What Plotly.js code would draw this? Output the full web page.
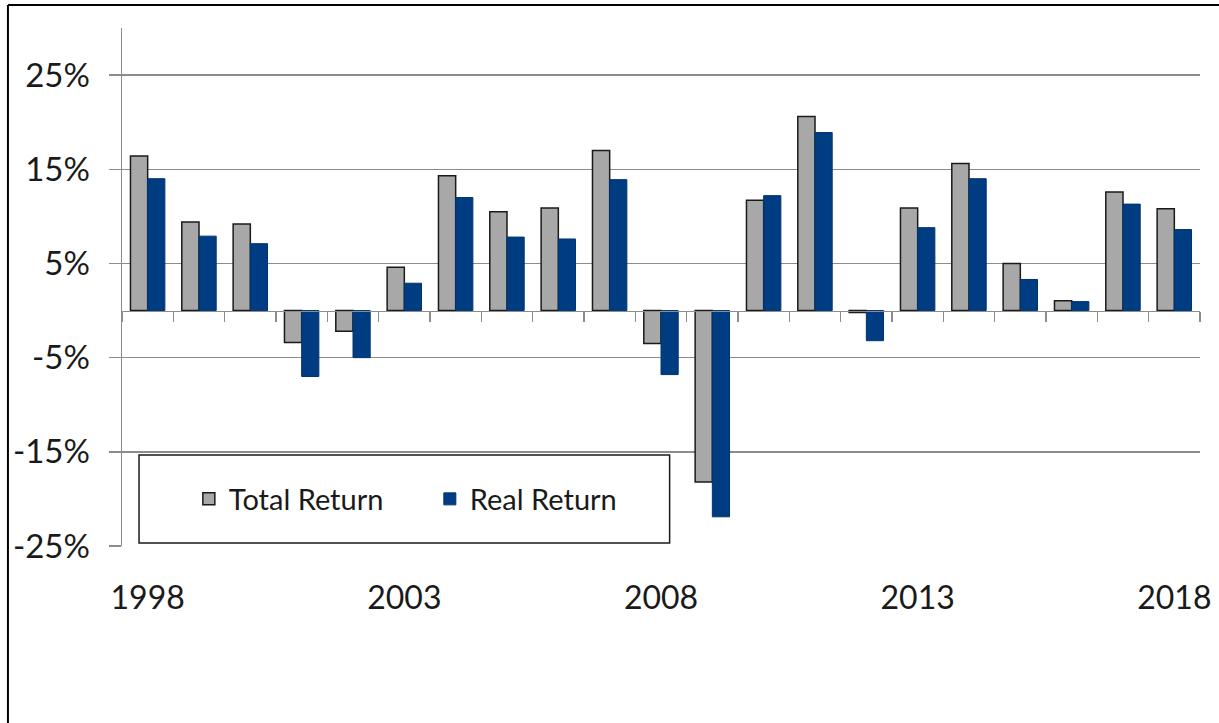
<!DOCTYPE html>
<html>
<head>
<meta charset="utf-8">
<script src="https://cdn.plot.ly/plotly-3.0.1.min.js"></script>
<style>html,body{margin:0;padding:0;background:#fff;}#chart{width:1219px;height:723px;}</style>
</head>
<body>
<div id="chart"></div>
<script>
const years = ["1998","1999","2000","2001","2002","2003","2004","2005","2006","2007","2008","2009","2010","2011","2012","2013","2014","2015","2016","2017","2018"];
const totalReturn = [16.4, 9.4, 9.2, -3.4, -2.2, 4.6, 14.3, 10.5, 10.9, 17.0, -3.5, -18.2, 11.7, 20.6, -0.2, 10.9, 15.6, 5.0, 1.05, 12.6, 10.8];
const realReturn  = [14.0, 7.9, 7.1, -7.0, -5.0, 2.9, 12.0, 7.8, 7.6, 13.9, -6.8, -21.9, 12.2, 18.9, -3.2, 8.8, 14.0, 3.3, 0.95, 11.3, 8.6];
const yTickVals = [-25, -15, -5, 5, 15, 25];
const yTickText = ["-25%", "-15%", "-5%", "5%", "15%", "25%"];
const xLabelYears = ["1998", "2003", "2008", "2013", "2018"];

const FONT = "Lato, 'Open Sans', sans-serif";
const yMin = -25, yMax = 30;
const zeroPos = (0 - yMin) / (yMax - yMin);

const traces = [
  {type: "bar", name: "Total Return", x: years, y: totalReturn, xaxis: "x", yaxis: "y",
   marker: {color: "#a8a8a8", line: {color: "#1a1a1a", width: 1.5}}},
  {type: "bar", name: "Real Return", x: years, y: realReturn, xaxis: "x", yaxis: "y",
   marker: {color: "#003c82", line: {color: "#00346f", width: 1}}}
];

const labelIdx = xLabelYears.map(y => years.indexOf(y));

const layout = {
  width: 1219, height: 723,
  margin: {l: 122, r: 19, t: 28, b: 177},
  paper_bgcolor: "#fff", plot_bgcolor: "#fff",
  font: {family: FONT, color: "#1a1a1a"},
  barmode: "group", bargap: 0.33, bargroupgap: 0,
  showlegend: true,
  legend: {orientation: "h", x: 0.062, y: 0.0907, xanchor: "left", yanchor: "middle",
           bgcolor: "rgba(0,0,0,0)", borderwidth: 0, entrywidth: 196, entrywidthmode: "pixels",
           font: {family: FONT, size: 29, color: "#1a1a1a"}},
  xaxis: {type: "category", anchor: "free", position: zeroPos, showline: true, linecolor: "#8c8c8c", linewidth: 1.5,
          ticks: "outside", ticklen: 10, tickwidth: 1.5, tickcolor: "#8c8c8c", tickson: "boundaries",
          showticklabels: false, showgrid: false, zeroline: false, fixedrange: true,
          range: [-0.5, years.length - 0.5]},
  xaxis2: {type: "linear", overlaying: "x", anchor: "y", side: "bottom", range: [-0.5, years.length - 0.5],
           tickvals: labelIdx, ticktext: xLabelYears, ticks: "", showline: false, showgrid: false, zeroline: false,
           ticklabelstandoff: 30, tickfont: {family: FONT, size: 32, color: "#1a1a1a"}},
  yaxis: {range: [yMin, yMax], tickvals: yTickVals, ticktext: yTickText, showgrid: true, gridcolor: "#8c8c8c", gridwidth: 1.5,
          showline: true, linecolor: "#8c8c8c", linewidth: 1.5, ticks: "outside", ticklen: 12, tickwidth: 1.5, tickcolor: "#8c8c8c",
          zeroline: false, ticklabelstandoff: 12, tickfont: {family: FONT, size: 33, color: "#1a1a1a"}},
  shapes: [
    {type: "rect", xref: "paper", yref: "paper", x0: 0.0158, x1: 0.508, y0: 0.0058, y1: 0.1757,
     fillcolor: "#ffffff", line: {color: "#1a1a1a", width: 1.5}, layer: "above"},
    {type: "line", xref: "paper", yref: "paper", x0: -0.1058, x1: 1.02, y0: 1.0444, y1: 1.0444, line: {color: "#000", width: 2}},
    {type: "line", xref: "paper", yref: "paper", x0: -0.1058, x1: -0.1058, y0: 1.0444, y1: -0.35, line: {color: "#000", width: 2}}
  ]
};

// invisible empty trace so that the label axis is rendered
traces.push({type: "scatter", x: [], y: [], xaxis: "x2", yaxis: "y", showlegend: false, hoverinfo: "skip"});

Plotly.newPlot("chart", traces, layout, {displayModeBar: false, staticPlot: true});
</script>
</body>
</html>
